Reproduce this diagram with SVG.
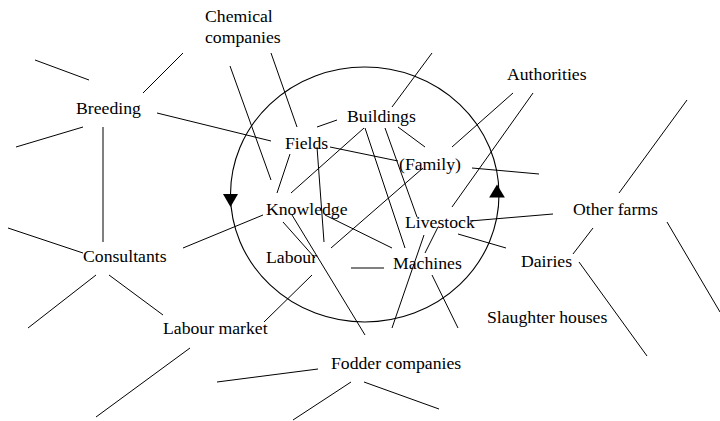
<svg xmlns="http://www.w3.org/2000/svg" width="720" height="421" viewBox="0 0 720 421">
<style>
text{font-family:"Liberation Serif","Times New Roman",serif;font-size:17.7px;fill:#000}
.c line{stroke:#000;stroke-width:1;fill:none}
.cycle{stroke:#000;stroke-width:1.1;fill:none}
</style>
<defs>
<polygon id="ah" points="-7.5,0 7.5,0 0,13" fill="#000"/>
</defs>
<rect width="720" height="421" fill="#fff"/>
<g id="cycle">
<ellipse class="cycle" cx="364.75" cy="194.5" rx="134.25" ry="127.5"/>
<use href="#ah" x="230.5" y="194"/>
<use href="#ah" transform="translate(497,197.5) scale(1.05,-1)"/>
</g>
<g class="c" id="connectors">
<line x1="35" y1="60" x2="89" y2="80"/>
<line x1="143" y1="93" x2="183" y2="53"/>
<line x1="83" y1="127" x2="16" y2="147"/>
<line x1="103" y1="127" x2="103" y2="242"/>
<line x1="157" y1="113" x2="271" y2="141"/>
<line x1="230" y1="66" x2="271" y2="180"/>
<line x1="271" y1="53" x2="297" y2="127"/>
<line x1="317" y1="127" x2="337" y2="120"/>
<line x1="330" y1="147" x2="398" y2="161"/>
<line x1="290" y1="154" x2="277" y2="193"/>
<line x1="317" y1="147" x2="324" y2="242"/>
<line x1="291" y1="193" x2="364" y2="128"/>
<line x1="365" y1="128" x2="405" y2="248"/>
<line x1="385" y1="128" x2="417" y2="217"/>
<line x1="398" y1="127" x2="425" y2="147"/>
<line x1="392" y1="107" x2="432" y2="53"/>
<line x1="513" y1="93" x2="452" y2="147"/>
<line x1="533" y1="93" x2="452" y2="207"/>
<line x1="472" y1="168" x2="539" y2="174"/>
<line x1="423" y1="168" x2="331" y2="248"/>
<line x1="325" y1="215" x2="392" y2="248"/>
<line x1="283" y1="222" x2="315" y2="258"/>
<line x1="292" y1="215" x2="365" y2="335"/>
<line x1="351" y1="268" x2="384" y2="268"/>
<line x1="438" y1="227" x2="425" y2="253"/>
<line x1="424" y1="235" x2="392" y2="328"/>
<line x1="432" y1="275" x2="458" y2="328"/>
<line x1="458" y1="234" x2="506" y2="248"/>
<line x1="470" y1="221" x2="553" y2="214"/>
<line x1="619" y1="193" x2="687" y2="100"/>
<line x1="667" y1="222" x2="720" y2="312"/>
<line x1="593" y1="228" x2="573" y2="254"/>
<line x1="579" y1="262" x2="647" y2="356"/>
<line x1="318" y1="369" x2="217" y2="382"/>
<line x1="351" y1="382" x2="293" y2="420"/>
<line x1="364" y1="382" x2="439" y2="409"/>
<line x1="190" y1="348" x2="96" y2="417"/>
<line x1="264" y1="322" x2="312" y2="275"/>
<line x1="109" y1="275" x2="163" y2="315"/>
<line x1="96" y1="275" x2="28" y2="328"/>
<line x1="8" y1="228" x2="83" y2="253"/>
<line x1="183" y1="248" x2="263" y2="215"/>
</g>
<g id="chemical"><text x="205" y="22">Chemical</text><text x="205" y="43">companies</text></g>
<g id="breeding"><text x="76" y="114">Breeding</text></g>
<g id="fields"><text x="285" y="149">Fields</text></g>
<g id="buildings"><text x="347" y="122">Buildings</text></g>
<g id="family"><text x="399" y="170">(Family)</text></g>
<g id="authorities"><text x="507" y="80">Authorities</text></g>
<g id="knowledge"><text x="266" y="215">Knowledge</text></g>
<g id="labour"><text x="266" y="263">Labour</text></g>
<g id="livestock"><text x="405" y="228">Livestock</text></g>
<g id="machines"><text x="393" y="269">Machines</text></g>
<g id="otherfarms"><text x="573" y="215">Other farms</text></g>
<g id="dairies"><text x="521" y="267">Dairies</text></g>
<g id="slaughter"><text x="487" y="323">Slaughter houses</text></g>
<g id="consultants"><text x="83" y="262">Consultants</text></g>
<g id="labourmarket"><text x="163" y="334">Labour market</text></g>
<g id="fodder"><text x="331" y="369">Fodder companies</text></g>
</svg>
